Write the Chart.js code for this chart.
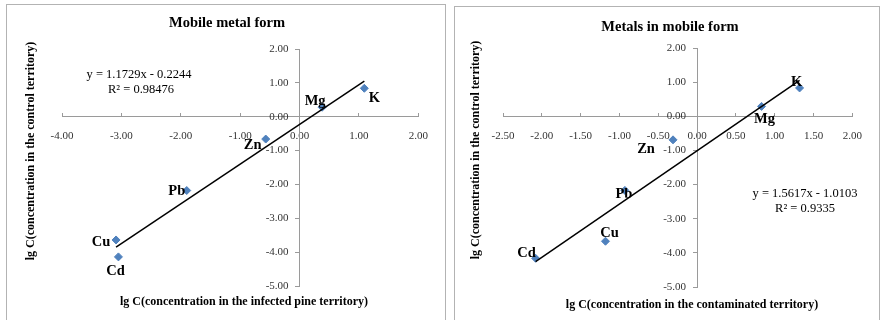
<!DOCTYPE html>
<html>
<head>
<meta charset="utf-8">
<script src="https://cdn.jsdelivr.net/npm/chart.js@4/dist/chart.umd.min.js"></script>
<style>
  html, body { margin: 0; padding: 0; background: #fff; width: 880px; height: 320px; overflow: hidden; }
  .panel { position: absolute; border: 1px solid #b3b3b3; background: #fff; box-sizing: border-box; overflow: hidden; }
  #p1 { left: 6px; top: 4px; width: 440px; height: 330px; }
  #p2 { left: 454px; top: 6px; width: 426px; height: 330px; }
  canvas { position: absolute; left: 0; top: 0; }
</style>
</head>
<body>
<div class="panel" id="p1"><canvas id="c1" width="438" height="315"></canvas></div>
<div class="panel" id="p2"><canvas id="c2" width="424" height="313"></canvas></div>
<script>
// Elements, in the same order for both panels
const metals = ['K', 'Mg', 'Zn', 'Pb', 'Cu', 'Cd'];

// Panel 1: infected pine territory vs control territory (lg C)
const pineX = [1.09, 0.38, -0.57, -1.90, -3.09, -3.05];
const pineY = [0.84, 0.28, -0.66, -2.18, -3.64, -4.14];
const pineSlope = 1.1729;
const pineIntercept = -0.2244;
const pineR2 = '0.98476';
const pineXTicks = [-4, -3, -2, -1, 0, 1, 2];
const pineYTicks = [-5, -4, -3, -2, -1, 0, 1, 2];

// Panel 2: contaminated territory vs control territory (lg C)
const contamX = [1.32, 0.83, -0.31, -0.93, -1.18, -2.08];
const contamY = [0.83, 0.29, -0.69, -2.17, -3.66, -4.16];
const contamSlope = 1.5617;
const contamIntercept = -1.0103;
const contamR2 = '0.9335';
const contamXTicks = [-2.5, -2, -1.5, -1, -0.5, 0, 0.5, 1, 1.5, 2];
const contamYTicks = [-5, -4, -3, -2, -1, 0, 1, 2];

const SERIF = '"Liberation Serif", "Times New Roman", serif';
const MARKER = '#4F81BD';
const AXIS = '#9a9a9a';
const TICK_TEXT = '#333333';
// a y axis placed at x = 0 sets its labels flush against the line; two en spaces keep them clear of it
const Y_LABEL_GAP = '\u2002\u2002';

function fmtSigned(v) {
  return (v < 0 ? '- ' : '+ ') + Math.abs(v).toFixed(4);
}

function buildChart(canvasId, opt) {
  const points = opt.xs.map((x, i) => ({ x: x, y: opt.ys[i] }));
  const xMin = Math.min(...opt.xs), xMax = Math.max(...opt.xs);
  const fit = [xMin, xMax].map(x => ({ x: x, y: opt.slope * x + opt.intercept }));

  const labels = {
    id: 'panelText',
    afterDatasetsDraw(chart) {
      const ctx = chart.ctx;
      ctx.save();
      ctx.fillStyle = '#000';
      ctx.textAlign = 'center';
      ctx.textBaseline = 'middle';
      // element names beside their markers
      ctx.font = 'bold 14.5px ' + SERIF;
      chart.getDatasetMeta(1).data.forEach((pt, i) => {
        const off = opt.labelOffsets[i];
        ctx.fillText(metals[i], pt.x + off[0], pt.y + off[1]);
      });
      // trendline equation
      ctx.font = '12.5px ' + SERIF;
      ctx.fillText('y = ' + opt.slope.toFixed(4) + 'x ' + fmtSigned(opt.intercept), opt.eqPos[0], opt.eqPos[1]);
      ctx.fillText('R\u00B2 = ' + opt.r2, opt.eqPos[0] + opt.r2Shift, opt.eqPos[1] + 15);
      // chart title
      ctx.font = 'bold 14.5px ' + SERIF;
      ctx.fillText(opt.title, opt.titlePos[0], opt.titlePos[1]);
      // axis titles
      ctx.font = 'bold 12px ' + SERIF;
      ctx.fillText(opt.xTitle, opt.xTitlePos[0], opt.xTitlePos[1]);
      ctx.translate(opt.yTitlePos[0], opt.yTitlePos[1]);
      ctx.rotate(-Math.PI / 2);
      ctx.fillText(opt.yTitle, 0, 0);
      ctx.restore();
    }
  };

  return new Chart(document.getElementById(canvasId), {
    type: 'scatter',
    data: {
      datasets: [
        {
          label: 'Linear trend',
          data: fit,
          showLine: true,
          borderColor: '#000',
          borderWidth: 1.5,
          pointRadius: 0,
          order: 0
        },
        {
          label: 'lg C',
          data: points,
          pointStyle: 'rectRot',
          pointRadius: 4,
          backgroundColor: MARKER,
          borderColor: MARKER,
          borderWidth: 1,
          order: 1
        }
      ]
    },
    options: {
      responsive: false,
      animation: false,
      events: [],
      layout: { padding: opt.padding },
      plugins: { legend: { display: false }, tooltip: { enabled: false }, title: { display: false } },
      scales: {
        x: {
          type: 'linear',
          position: { y: 0 },
          min: opt.xTicks[0],
          max: opt.xTicks[opt.xTicks.length - 1],
          afterBuildTicks: s => { s.ticks = opt.xTicks.map(v => ({ value: v })); },
          grid: { display: true, drawOnChartArea: false, drawTicks: true, tickLength: -4, color: AXIS },
          border: { display: true, color: AXIS, width: 1 },
          ticks: {
            autoSkip: false, maxRotation: 0, minRotation: 0, padding: 17,
            color: TICK_TEXT, font: { family: SERIF, size: 11 },
            callback: v => Number(v).toFixed(2)
          }
        },
        y: {
          type: 'linear',
          position: { x: 0 },
          min: opt.yTicks[0],
          max: opt.yTicks[opt.yTicks.length - 1],
          afterBuildTicks: s => { s.ticks = opt.yTicks.map(v => ({ value: v })); },
          grid: { display: true, drawOnChartArea: false, drawTicks: true, tickLength: 4, color: AXIS },
          border: { display: true, color: AXIS, width: 1 },
          ticks: {
            autoSkip: false, padding: 6,
            color: TICK_TEXT, font: { family: SERIF, size: 11 },
            callback: v => Number(v).toFixed(2) + Y_LABEL_GAP
          }
        }
      }
    },
    plugins: [labels]
  });
}

buildChart('c1', {
  xs: pineX, ys: pineY, slope: pineSlope, intercept: pineIntercept, r2: pineR2,
  xTicks: pineXTicks, yTicks: pineYTicks,
  padding: { left: 55, right: 22, top: 44, bottom: 34 },
  title: 'Mobile metal form',
  titlePos: [220, 18],
  xTitle: 'lg C(concentration in the infected pine territory)',
  xTitlePos: [237, 297],
  yTitle: 'lg C(concentration in the control territory)',
  yTitlePos: [24, 146],
  eqPos: [132, 70], r2Shift: 2,
  labelOffsets: [[10, 10], [-7, -6], [-13, 6], [-10, 1], [-15, 2], [-3, 14]]
});

buildChart('c2', {
  xs: contamX, ys: contamY, slope: contamSlope, intercept: contamIntercept, r2: contamR2,
  xTicks: contamXTicks, yTicks: contamYTicks,
  padding: { left: 48, right: 15, top: 41, bottom: 33 },
  title: 'Metals in mobile form',
  titlePos: [215, 20],
  xTitle: 'lg C(concentration in the contaminated territory)',
  xTitlePos: [237, 298],
  yTitle: 'lg C(concentration in the control territory)',
  yTitlePos: [21, 143],
  eqPos: [350, 187], r2Shift: 0,
  labelOffsets: [[-3, -6], [3, 13], [-27, 9], [-1, 4], [4, -8], [-9, -5]]
});
</script>
</body>
</html>
